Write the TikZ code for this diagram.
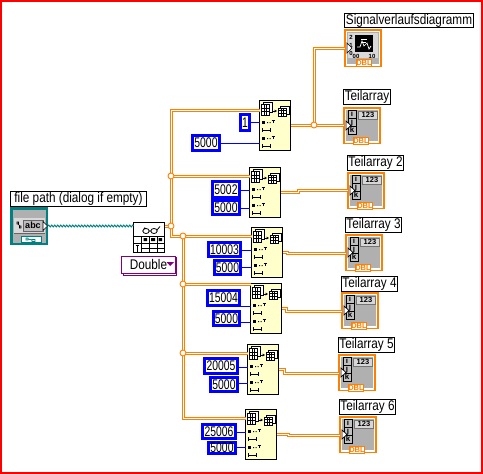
\documentclass[tikz,border=0pt]{standalone}
\usepackage{fontspec}
\setmainfont[FakeStretch=0.84]{Liberation Sans}
\newfontfamily\cstfont[FakeStretch=0.74]{Liberation Sans}
\newfontfamily\plainfont{Liberation Sans}
\usetikzlibrary{decorations.pathmorphing}
\definecolor{lvorange}{HTML}{FF8000}
\definecolor{lvblue}{HTML}{0000FF}
\definecolor{lvteal}{HTML}{008080}
\definecolor{lvpurple}{HTML}{800080}
\definecolor{lvcream}{HTML}{FFFFCC}
\definecolor{lvgray}{HTML}{B0B0B0}
\tikzset{
  lvtext/.style={font=\fontsize{14}{14}\selectfont,text=black,inner sep=0pt,outer sep=0pt},
  labelbox/.style={lvtext,draw=black,fill=white,line width=1pt},
  constbox/.style={lvtext,font=\cstfont\fontsize{14}{14}\selectfont,draw=lvblue,fill=white,line width=3pt},
  subbox/.style={draw=black,fill=lvcream,line width=1pt,inner sep=0pt,outer sep=0pt},
  indbox/.style={draw=lvorange,fill=white,line width=1.5pt,inner sep=0pt,outer sep=0pt},
  arrwire/.style={draw=lvorange,line width=1pt,double=white,double distance=1pt},
  ctlwire/.style={draw=lvblue,line width=1pt},
  junction/.style={circle,draw=lvorange,fill=white,line width=.9pt,minimum size=6pt,inner sep=0pt,outer sep=0pt},
  tiny/.style={inner sep=0pt,outer sep=0pt,font=\plainfont\fontsize{6}{6}\selectfont\bfseries},
}
\newcommand{\lbl}[6]{\node[labelbox,minimum width={(#4-#2-1)*1pt},minimum height={(#5-#3-1)*1pt}] (#1) at ({(#2+#4)/2},{(#3+#5)/2}) {#6};}
\newcommand{\cst}[6]{\node[constbox,minimum width={(#4-#2-3)*1pt},minimum height={(#5-#3-3)*1pt}] (#1) at ({(#2+#4)/2},{(#3+#5)/2}) {#6};}
\newcommand{\gridicon}[4]{%
  \begin{scope}[shift={(#1,#2)},line width=.7pt,draw=black]
    \draw[fill=white] (#3*.2,0) rectangle (#3,#4*.8);
    \draw[fill=white] (0,#4*.2) rectangle (#3*.8,#4);
    \draw (#3*.27,#4*.2) -- (#3*.27,#4) (#3*.53,#4*.2) -- (#3*.53,#4);
    \draw (0,#4*.47) -- (#3*.8,#4*.47) (0,#4*.73) -- (#3*.8,#4*.73);
  \end{scope}}
\newcommand{\subf}[3]{%
  \node[subbox,minimum width=31pt,minimum height=50pt] (#1) at ({#2+16},{#3+25.5}) {};
  \begin{scope}[shift={(#2,#3)}]
    \gridicon{2}{2}{11}{13}
    \draw[line width=.8pt] (14,11) -- (16,11); \fill (18,11) -- (15.5,9.5) -- (15.5,12.5) -- cycle;
    \gridicon{19}{6}{11}{10}
    \foreach \r in {22,38} {
      \fill (3,\r-1.5) rectangle (6,\r+1.5);
      \fill (8,\r) rectangle (9,\r+1) (10.5,\r) rectangle (11.5,\r+1);
      \draw[line width=.8pt] (14,\r+1) -- (14,\r-2.5) (12.5,\r-1.5) -- (15.5,\r-1.5);
    }
    \foreach \r in {30,46} {
      \draw[line width=.9pt] (3,\r-2) -- (3,\r+2) (3,\r) -- (11,\r) (11,\r-2) -- (11,\r+2);
    }
  \end{scope}}
\newcommand{\dbltab}[2]{%
  \node[draw=lvorange,fill=white,line width=1pt,minimum width=13pt,minimum height=7pt,inner sep=0pt,outer sep=0pt,text=lvorange,font=\plainfont\fontsize{7.5}{7.5}\selectfont\bfseries] (#1) at (#2) {DBL};}
\newcommand{\arrind}[3]{%
  \node[indbox,minimum width=36pt,minimum height=35.5pt] (#1) at ({#2+19},{#3+18.5}) {};
  \begin{scope}[shift={(#2,#3)}]
    \fill[lvgray] (3,3) rectangle (35,34);
    \foreach \yy/\ch/\nm in {3/i/a,11/j/b,19/k/c} {
      \node[draw=black,fill=lvgray!80,line width=.8pt,minimum width=8pt,minimum height=8pt,inner sep=0pt,font=\plainfont\fontsize{8}{8}\selectfont\bfseries] (#1\nm) at (9,\yy+4) {\ch};
    }
    \node[draw=black!55,fill=lvgray!50,line width=.8pt,minimum width=19pt,minimum height=8pt,inner sep=0pt,font=\plainfont\fontsize{7.5}{7.5}\selectfont\bfseries] (#1n) at (25,8) {123};
    \dbltab{#1d}{18,33.5}
    \draw[fill=white,draw=black,line width=.7pt] (3,14) -- (8,18.5) -- (3,23) -- cycle;
  \end{scope}}
\begin{document}
\begin{tikzpicture}[x=1pt,y=-1pt]
\useasboundingbox (0,0) rectangle (483,474);
\fill[white] (0,0) rectangle (483,474);
\draw[red,line width=2.5pt] (1,1) -- (482,1) -- (482,473) -- (1,473) -- cycle;

% file path control
\lbl{lpath}{10}{191}{147}{207}{file path (dialog if empty)}
\node[draw=lvteal,fill=lvgray,line width=2.5pt,minimum width=35.5pt,minimum height=35.5pt,inner sep=0pt,outer sep=0pt] (path) at (29,226) {};
\fill[black!15] (14,218) rectangle (45,233);
\draw[black!60,line width=.6pt] (14,233) -- (45,233);
\node[draw=black!60,fill=black!25,line width=.6pt,minimum width=20pt,minimum height=11pt,inner sep=0pt,font=\plainfont\fontsize{9}{9}\selectfont\bfseries] (pathtxt) at (33,225.5) {abc};
\draw[line width=.7pt] (17,222) rectangle (18.5,224) (19.5,226) rectangle (21,228) (18,224) -- (20,226);
\node[draw=lvteal,fill=white,line width=1pt,minimum width=20pt,minimum height=6pt,inner sep=0pt,outer sep=0pt] (pathtab) at (31,239.5) {};
\draw[lvteal,line width=.8pt] (26,238) rectangle (28,240) (32,239.5) rectangle (35,241.5) (28,239) -- (32,240);
\draw[fill=white,draw=black,line width=.7pt] (43,221.5) -- (47.5,226) -- (43,230.5) -- cycle;

% read node
\node[draw=black,fill=white,line width=1pt,minimum width=31pt,minimum height=30pt,inner sep=0pt,outer sep=0pt] (read) at (149,237.5) {};
\draw[line width=.8pt] (133,236) -- (165,236) (141.5,236) -- (141.5,253) (149.5,236) -- (149.5,253) (157,236) -- (157,253) (133,243) -- (165,243) (141.5,248) -- (165,248);
\draw[line width=.8pt] (146,231) ellipse (3.2 and 2.5) (154,231) ellipse (3.2 and 2.5) (149,231) -- (151,231) (157,230) -- (160,226.5) (142.8,231) -- (145,227.5);
\fill (143.5,238) rectangle (147,241) (151,238) rectangle (155,241) (158.5,238) rectangle (162,241);
\draw[line width=.9pt] (137,245) -- (137,252) (135.5,245) -- (138.5,245) (135.5,252) -- (138.5,252);

% Double ring
\draw[lvpurple,line width=1pt,fill=white] (123.5,257.5) rectangle (176.5,275);
\node[lvtext,draw=lvpurple,fill=white,line width=1pt,minimum width=54pt,minimum height=17.5pt] (dbl) at (148.5,264.8) {Double\hspace{12pt}};
\fill[lvpurple] (166.5,262) -- (174,262) -- (170.2,266) -- cycle;

% subset functions
\subf{s1}{259}{100}
\subf{s2}{249}{167}
\subf{s3}{251}{227}
\subf{s4}{250}{283}
\subf{s5}{247}{344}
\subf{s6}{245}{409}

% constants
\cst{c1a}{239}{113}{251}{132}{1}
\cst{c1b}{191}{134}{221}{152}{5000}
\cst{c2a}{211}{180}{241}{199}{5002}
\cst{c2b}{211}{199}{241}{216}{5000}
\cst{c3a}{207}{241}{242}{258}{10003}
\cst{c3b}{213}{259}{242}{276}{5000}
\cst{c4a}{206}{289}{241}{307}{15004}
\cst{c4b}{212}{310}{241}{327}{5000}
\cst{c5a}{203}{357}{239}{375}{20005}
\cst{c5b}{209}{376}{239}{393}{5000}
\cst{c6a}{201}{423}{237}{440}{25006}
\cst{c6b}{207}{441}{237}{455}{5000}

% control wires
\coordinate (y1a) at (0,122); \coordinate (y1b) at (0,143);
\coordinate (y2a) at (0,190); \coordinate (y2b) at (0,208);
\coordinate (y3a) at (0,250); \coordinate (y3b) at (0,267);
\coordinate (y4a) at (0,306); \coordinate (y4b) at (0,322);
\coordinate (y5a) at (0,367); \coordinate (y5b) at (0,383);
\coordinate (y6a) at (0,432); \coordinate (y6b) at (0,447);
\foreach \i in {1,...,6} \foreach \k in {a,b} {
  \draw[ctlwire] (c\i\k.east |- y\i\k) -- (s\i.west |- y\i\k);
}

% indicators
\arrind{t1}{343}{107}
\arrind{t2}{347}{172}
\arrind{t3}{345}{234}
\arrind{t4}{341}{292}
\arrind{t5}{338}{354}
\arrind{t6}{339}{416}
\lbl{l1}{343}{89}{391}{105}{Teilarray}
\lbl{l2}{347}{155}{404}{171}{Teilarray 2}
\lbl{l3}{345}{217}{402}{233}{Teilarray 3}
\lbl{l4}{341}{276}{398}{292}{Teilarray 4}
\lbl{l5}{338}{337}{395}{353}{Teilarray 5}
\lbl{l6}{339}{399}{396}{415}{Teilarray 6}

% waveform graph
\lbl{lw}{344}{13}{474}{28}{Signalverlaufsdiagramm}
\node[indbox,minimum width=36pt,minimum height=36.5pt] (wf) at (363,48) {};
\fill[lvgray] (347,32) rectangle (379,64);
\fill[black!15] (348,33) rectangle (378,58);
\node[fill=black,minimum width=18pt,minimum height=17pt,inner sep=0pt,outer sep=0pt] (wfs) at (364,43.5) {};
\draw[white,line width=.7pt] (357,47) -- (360,47) -- (362,41) -- (364,46) -- (367,43) -- (369,49) -- (371,46);
\draw[white,line width=.6pt] (361,39) -- (367,39) (361,42) -- (366,42);
\node[tiny] (wf2) at (351,37) {2};
\node[tiny] (wf1) at (351,45) {1};
\node[tiny] (wf0) at (351,53) {0};
\node[tiny] (wfx) at (356,56) {00};
\node[tiny] (wfy) at (372,56) {10};
\dbltab{wfd}{364,63}
\draw[fill=white,draw=black,line width=.7pt] (347,43) -- (352,48) -- (347,53) -- cycle;

% teal wire
\draw[lvteal,line width=1pt,decorate,decoration={zigzag,amplitude=.9pt,segment length=3pt}] (48,226) -- (read.west |- 0,226);

% array wires
\coordinate (ja) at (171,226);
\coordinate (jb) at (171,176);
\coordinate (jc) at (183,236);
\coordinate (jd) at (183,284);
\coordinate (je) at (183,353);
\coordinate (jo) at (314,125);
\draw[arrwire] (read.east |- ja) -- (ja);
\draw[arrwire] (s1.west |- 0,110) -- (171,110) -- (171,236) -- (s3.west |- jc);
\draw[arrwire] (jb) -- (s2.west |- jb);
\draw[arrwire] (jc) -- (183,418) -- (s6.west |- 0,418);
\draw[arrwire] (jd) -- (s4.west |- jd);
\draw[arrwire] (je) -- (s5.west |- je);
\draw[arrwire] (s1.east |- jo) -- (t1.west |- jo);
\draw[arrwire] (jo) -- (314,48) -- (wf.west);
\draw[arrwire] (s2.east |- 0,192) -- (298,192) -- (298,190.5) -- (t2.west |- 0,190.5);
\draw[arrwire] (s3.east |- 0,252) -- (287,252) -- (287,253) -- (t3.west |- 0,253);
\draw[arrwire] (s4.east |- 0,308) -- (286,308) -- (286,311) -- (t4.west |- 0,311);
\draw[arrwire] (s5.east |- 0,369) -- (284,369) -- (284,373) -- (t5.west |- 0,373);
\draw[arrwire] (s6.east |- 0,434) -- (288,434) -- (288,435.5) -- (t6.west |- 0,435.5);
\foreach \j in {ja,jb,jc,jd,je,jo} \node[junction] (n\j) at (\j) {};
\end{tikzpicture}
\end{document}
